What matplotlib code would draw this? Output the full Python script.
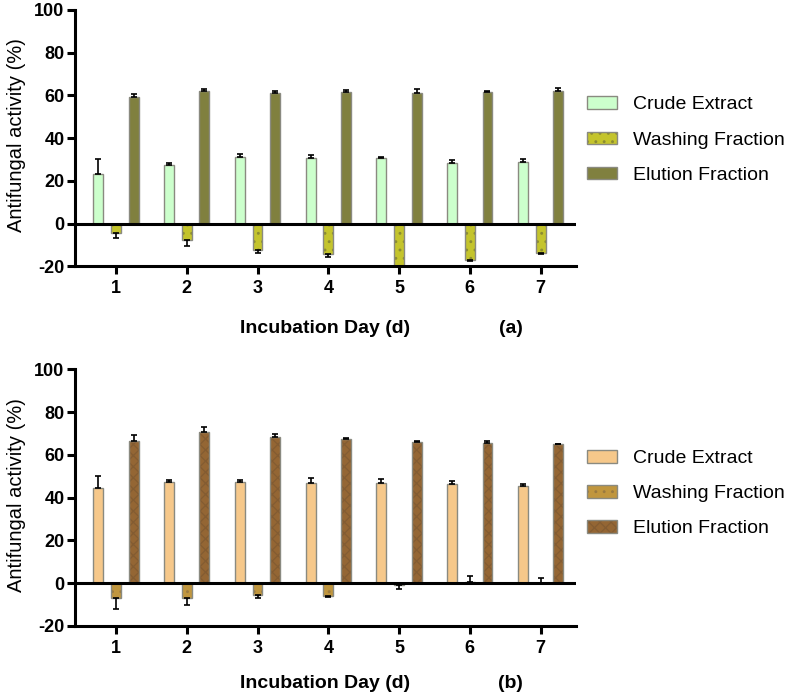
import matplotlib.pyplot as plt
import numpy as np

days = [1, 2, 3, 4, 5, 6, 7]
series_names = ['Crude Extract', 'Washing Fraction', 'Elution Fraction']

# panel (a)
crude_a = [23, 27.5, 31, 30.5, 30.5, 28.5, 29]
crude_a_err = [7, 1, 1.5, 1.5, 0.5, 1, 1]
wash_a = [-4.5, -7.5, -12.5, -14.5, -20, -17, -14]
wash_a_err = [2.5, 3, 1.5, 1, 0, 0.5, 0.5]
elu_a = [59, 62, 61, 61.5, 61, 61.5, 62]
elu_a_err = [1.5, 1, 1, 1, 2, 0.5, 1.5]

# panel (b)
crude_b = [44.5, 47.5, 47.5, 47, 47, 46.5, 45.5]
crude_b_err = [5.5, 0.7, 0.8, 2, 1.5, 1.5, 0.8]
wash_b = [-7, -7, -5.5, -6, -1, 0.5, 0.3]
wash_b_err = [5, 3, 1.5, 0.5, 1.5, 3, 2]
elu_b = [66.5, 70.5, 68.5, 67.5, 66, 65.5, 65]
elu_b_err = [3, 2.5, 1.5, 0.5, 0.5, 1, 0.3]

yticks = [-20, 0, 20, 40, 60, 80, 100]

plt.rcParams['font.family'] = ['Liberation Sans', 'DejaVu Sans']
plt.rcParams['hatch.linewidth'] = 0.9
plt.rcParams['axes.unicode_minus'] = False

fig = plt.figure(figsize=(7.87, 6.97), dpi=100)
ax_a = fig.add_axes([0.0953, 0.618, 0.636, 0.368])
ax_b = fig.add_axes([0.0953, 0.102, 0.636, 0.368])


def one_sided(vals, errs):
    vals = np.array(vals)
    errs = np.array(errs)
    lower = np.where(vals < 0, errs, 0)
    upper = np.where(vals >= 0, errs, 0)
    return [lower, upper]


def draw_panel(ax, data, colors, hatches, hatch_colors, tag, xlab_y, leg_y):
    x = np.array(days)
    offsets = [-0.25, 0.0, 0.25]
    w = 0.14
    handles = []
    for (vals, errs), off, c, h, hc in zip(data, offsets, colors, hatches, hatch_colors):
        # fill (with hatch in its own colour), then grey outline on top
        b1 = ax.bar(x + off, vals, w, color=c, edgecolor=hc, linewidth=0, hatch=h, zorder=2)
        b2 = ax.bar(x + off, vals, w, facecolor='none', edgecolor='#8a8a80', linewidth=1.0, zorder=2.5)
        handles.append((b1, b2))
        ax.errorbar(x + off, vals, yerr=one_sided(vals, errs), fmt='none',
                    ecolor='black', elinewidth=1.2, capsize=2.5, capthick=1.2, zorder=3)
    ax.axhline(0, color='black', linewidth=2.2, zorder=4)
    ax.set_xlim(0.421, 7.494)
    ax.set_ylim(-20, 100)
    ax.set_yticks(yticks)
    ax.set_xticks(days)
    for s in ['top', 'right']:
        ax.spines[s].set_visible(False)
    for s in ['left', 'bottom']:
        ax.spines[s].set_linewidth(2.2)
    ax.tick_params(axis='y', width=2.2, length=6, labelsize=13, pad=1.5)
    ax.tick_params(axis='x', width=2.2, length=6, labelsize=13, pad=4)
    for lbl in ax.get_xticklabels() + ax.get_yticklabels():
        lbl.set_fontweight('bold')
    ax.set_ylabel('Antifungal activity (%)', fontsize=14.5)
    ax.yaxis.set_label_coords(-0.098, 0.51)
    ax.set_xlabel('Incubation Day (d)', fontsize=14, fontweight='bold')
    ax.xaxis.set_label_coords(0.5, xlab_y)
    ax.text(0.87, xlab_y, tag, transform=ax.transAxes, ha='center', va='top',
            fontsize=14, fontweight='bold')
    ax.legend(handles, series_names, loc='center left', bbox_to_anchor=(1.022, leg_y),
              frameon=False, fontsize=14, handlelength=1.55, handleheight=0.6,
              labelspacing=0.93, handletextpad=0.82, borderpad=0, borderaxespad=0)


draw_panel(ax_a,
           [(crude_a, crude_a_err), (wash_a, wash_a_err), (elu_a, elu_a_err)],
           ['#ccffcc', '#c4c42c', '#80803f'],
           [None, '..', None],
           ['#ccffcc', '#8c8c30', '#80803f'],
           '(a)', -0.21, 0.492)

draw_panel(ax_b,
           [(crude_b, crude_b_err), (wash_b, wash_b_err), (elu_b, elu_b_err)],
           ['#f6c88a', '#c0963e', '#946634'],
           [None, '..', 'xxx'],
           ['#f6c88a', '#9a7a40', '#835c32'],
           '(b)', -0.19, 0.515)

fig.savefig('out.png', dpi=100)
